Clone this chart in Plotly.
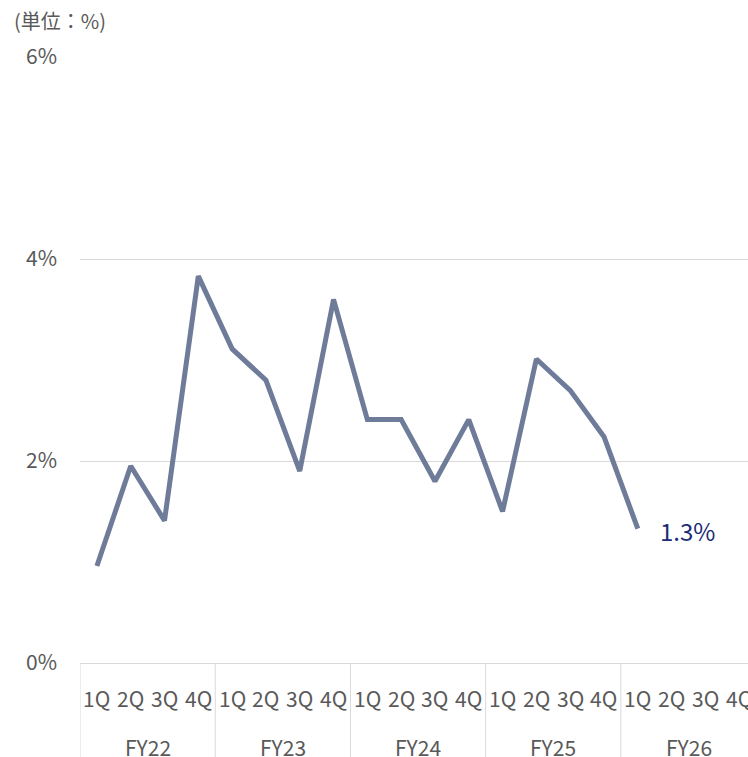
import plotly.graph_objects as go

fiscal_years = ["FY22", "FY23", "FY24", "FY25", "FY26"]
quarters = ["1Q", "2Q", "3Q", "4Q"]
# values in %, FY22 1Q .. FY26 1Q (later quarters not yet reported)
values = [0.96, 1.95, 1.41, 3.83,
          3.11, 2.80, 1.90, 3.60,
          2.41, 2.41, 1.80, 2.41,
          1.50, 3.01, 2.70, 2.24,
          1.33, None, None, None]
y_ticks = [0, 2, 4, 6]
y_tick_text = ["0%", "2%", "4%", "6%"]
last_label = "1.3%"
unit_label = "(単位：%)"

q_level = [q for _ in fiscal_years for q in quarters]
x_idx = list(range(len(q_level)))
nq = len(quarters)

FONT = "Noto Sans CJK JP"
GRID = "#d9d9d9"
TXT = "#595959"

fig = go.Figure()
fig.add_trace(go.Scatter(
    x=x_idx, y=values, mode="lines",
    line=dict(color="#6e7b99", width=5), connectgaps=False,
    hoverinfo="skip", showlegend=False,
))

plot_h = 757 - 57 - 94
x_range = [-0.5, 19.26]

# quarter labels (first category row)
for i, q in zip(x_idx, q_level):
    fig.add_annotation(
        x=i, xref="x", y=0, yref="paper", yanchor="middle", yshift=-35,
        text=q, showarrow=False,
        font=dict(family=FONT, size=21, color=TXT),
    )

# fiscal-year group labels and dividers
for k, fy in enumerate(fiscal_years):
    center = k * nq + (nq - 1) / 2
    fig.add_annotation(
        x=center, xref="x", y=0, yref="paper", yanchor="middle", yshift=-84,
        text=fy, showarrow=False,
        font=dict(family=FONT, size=21, color=TXT),
    )
    fig.add_shape(
        type="line", xref="x", yref="paper",
        x0=k * nq - 0.5, x1=k * nq - 0.5, y0=0, y1=-94 / plot_h,
        line=dict(color=GRID, width=1), layer="below",
    )

last_idx = max(i for i, v in enumerate(values) if v is not None)
fig.add_annotation(
    x=x_idx[last_idx], xref="x", y=values[last_idx], yref="y",
    yshift=-2, text=last_label, showarrow=False, xanchor="left", xshift=20,
    font=dict(family=FONT, size=24, color="#1b2a78"),
)
fig.add_annotation(
    x=0, xref="paper", y=1, yref="paper", yanchor="middle", yshift=37, xshift=-68,
    text=unit_label, showarrow=False, xanchor="left",
    font=dict(family=FONT, size=20, color=TXT),
)

fig.update_layout(
    width=748, height=757,
    margin=dict(l=80, r=0, t=57, b=94),
    paper_bgcolor="white", plot_bgcolor="white",
    font=dict(family=FONT, color=TXT),
)
fig.update_yaxes(
    range=[0, 6], tickvals=y_ticks, ticktext=y_tick_text,
    showgrid=True, gridcolor=GRID, gridwidth=1,
    zeroline=False, showline=False,
    tickfont=dict(family=FONT, size=21, color=TXT),
    ticklabelstandoff=22,
)
fig.update_xaxes(
    range=x_range, showticklabels=False,
    showline=True, linecolor=GRID, linewidth=1,
    showgrid=False, zeroline=False, ticks="",
)

fig.write_html("out.html")
